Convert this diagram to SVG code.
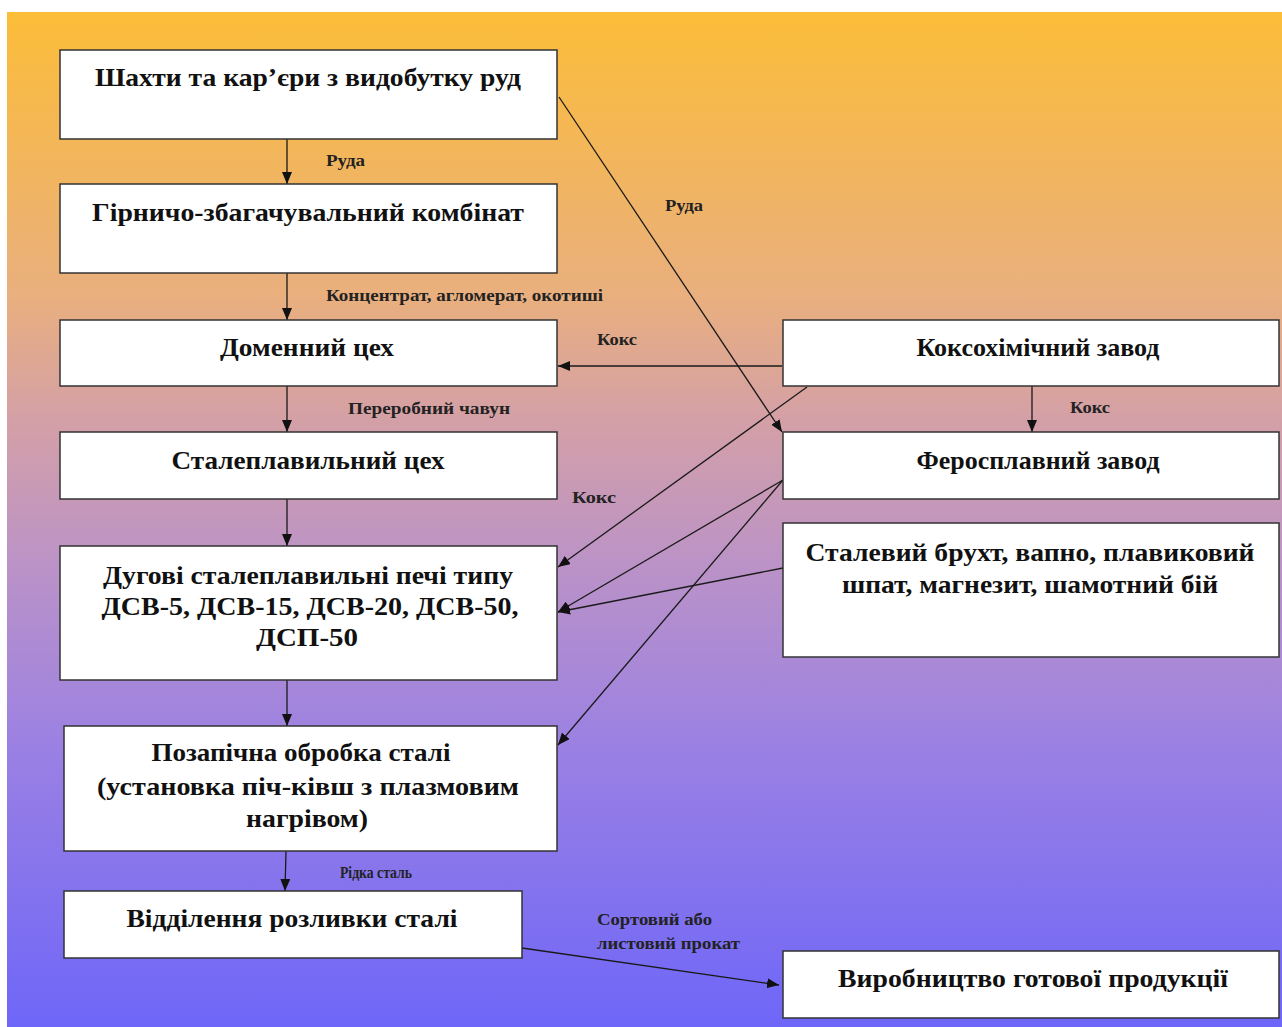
<svg xmlns="http://www.w3.org/2000/svg" width="1282" height="1027" viewBox="0 0 1282 1027">
<defs>
<linearGradient id="bg" x1="0" y1="0" x2="0" y2="1">
<stop offset="0" stop-color="#FCBD38"/>
<stop offset="0.28" stop-color="#E9AF7E"/>
<stop offset="0.4" stop-color="#D4A0A6"/>
<stop offset="0.55" stop-color="#BA92C8"/>
<stop offset="0.73" stop-color="#9A80E4"/>
<stop offset="1" stop-color="#6E66F8"/>
</linearGradient>
<marker id="ah" viewBox="0 0 12 10" refX="12" refY="5" markerWidth="12" markerHeight="10" markerUnits="userSpaceOnUse" orient="auto">
<path d="M0,0 L12,5 L0,10 Z" fill="#111"/>
</marker>
<style>
.box{fill:#fff;stroke:#333;stroke-width:1.5}
.nt{font-family:"Liberation Serif","Times New Roman",serif;font-weight:bold;font-size:26px;fill:#111;text-anchor:middle}
.lb{font-family:"Liberation Serif","Times New Roman",serif;font-weight:bold;font-size:17px;fill:#222}
.cn{stroke:#1a1a1a;stroke-width:1.3;fill:none;marker-end:url(#ah)}
</style>
</defs>
<rect x="0" y="0" width="1282" height="1027" fill="#fff"/>
<rect x="7" y="12" width="1275" height="1015" fill="url(#bg)"/>

<g id="connectors">
<line class="cn" x1="287" y1="139" x2="287" y2="184"/>
<line class="cn" x1="287" y1="273" x2="287" y2="320"/>
<line class="cn" x1="287" y1="386" x2="287" y2="432"/>
<line class="cn" x1="287" y1="499" x2="287" y2="546"/>
<line class="cn" x1="287" y1="680" x2="287" y2="726"/>
<line class="cn" x1="286" y1="851" x2="285" y2="891"/>
<line class="cn" x1="522" y1="948" x2="779" y2="985"/>
<line class="cn" x1="559" y1="97" x2="782" y2="432"/>
<line class="cn" x1="782" y1="366" x2="558" y2="366"/>
<line class="cn" x1="1032" y1="386" x2="1032" y2="432"/>
<line class="cn" x1="807" y1="387" x2="558" y2="567"/>
<line class="cn" x1="783" y1="480" x2="558" y2="612"/>
<line class="cn" x1="783" y1="480" x2="558" y2="745"/>
<line class="cn" x1="783" y1="568" x2="558" y2="612"/>
<text class="lb" x="326" y="166" textLength="39" lengthAdjust="spacingAndGlyphs">Руда</text>
<text class="lb" x="326" y="301" textLength="277" lengthAdjust="spacingAndGlyphs">Концентрат, агломерат, окотиші</text>
<text class="lb" x="348" y="414" textLength="162" lengthAdjust="spacingAndGlyphs">Переробний чавун</text>
<text class="lb" x="572" y="503" textLength="44" lengthAdjust="spacingAndGlyphs">Кокс</text>
<text class="lb" x="597" y="345" textLength="40" lengthAdjust="spacingAndGlyphs">Кокс</text>
<text class="lb" x="665" y="211" textLength="38" lengthAdjust="spacingAndGlyphs">Руда</text>
<text class="lb" x="1070" y="413" textLength="40" lengthAdjust="spacingAndGlyphs">Кокс</text>
<text class="lb" x="340" y="878" textLength="72" lengthAdjust="spacingAndGlyphs">Рідка сталь</text>
<text class="lb" x="597" y="925" textLength="115" lengthAdjust="spacingAndGlyphs">Сортовий або</text>
<text class="lb" x="597" y="949" textLength="143" lengthAdjust="spacingAndGlyphs">листовий прокат</text>
</g>

<g id="n1"><rect class="box" x="60" y="50" width="497" height="89"/><text class="nt" x="308" y="86" textLength="426" lengthAdjust="spacingAndGlyphs">Шахти та кар’єри з видобутку руд</text></g>
<g id="n2"><rect class="box" x="60" y="184" width="497" height="89"/><text class="nt" x="308" y="221" textLength="432" lengthAdjust="spacingAndGlyphs">Гірничо-збагачувальний комбінат</text></g>
<g id="n3"><rect class="box" x="60" y="320" width="497" height="66"/><text class="nt" x="307" y="356" textLength="174" lengthAdjust="spacingAndGlyphs">Доменний цех</text></g>
<g id="n4"><rect class="box" x="60" y="432" width="497" height="67"/><text class="nt" x="308" y="469" textLength="273" lengthAdjust="spacingAndGlyphs">Сталеплавильний цех</text></g>
<g id="n5"><rect class="box" x="60" y="546" width="497" height="134"/>
<text class="nt" x="308" y="584" textLength="410" lengthAdjust="spacingAndGlyphs">Дугові сталеплавильні печі типу</text>
<text class="nt" x="310" y="615" textLength="417" lengthAdjust="spacingAndGlyphs">ДСВ-5, ДСВ-15, ДСВ-20, ДСВ-50,</text>
<text class="nt" x="307" y="646" textLength="102" lengthAdjust="spacingAndGlyphs">ДСП-50</text></g>
<g id="n6"><rect class="box" x="64" y="726" width="493" height="125"/>
<text class="nt" x="301" y="761" textLength="299" lengthAdjust="spacingAndGlyphs">Позапічна обробка сталі</text>
<text class="nt" x="308" y="795" textLength="422" lengthAdjust="spacingAndGlyphs">(установка піч-ківш з плазмовим</text>
<text class="nt" x="307" y="827" textLength="122" lengthAdjust="spacingAndGlyphs">нагрівом)</text></g>
<g id="n7"><rect class="box" x="64" y="891" width="458" height="67"/><text class="nt" x="292" y="927" textLength="331" lengthAdjust="spacingAndGlyphs">Відділення розливки сталі</text></g>
<g id="n8"><rect class="box" x="783" y="951" width="496" height="67"/><text class="nt" x="1033" y="987" textLength="390" lengthAdjust="spacingAndGlyphs">Виробництво готової продукції</text></g>
<g id="n9"><rect class="box" x="783" y="320" width="496" height="66"/><text class="nt" x="1038" y="356" textLength="243" lengthAdjust="spacingAndGlyphs">Коксохімічний завод</text></g>
<g id="n10"><rect class="box" x="783" y="432" width="496" height="67"/><text class="nt" x="1038" y="469" textLength="243" lengthAdjust="spacingAndGlyphs">Феросплавний завод</text></g>
<g id="n11"><rect class="box" x="783" y="523" width="496" height="134"/>
<text class="nt" x="1030" y="561" textLength="449" lengthAdjust="spacingAndGlyphs">Сталевий брухт, вапно, плавиковий</text>
<text class="nt" x="1030" y="593" textLength="376" lengthAdjust="spacingAndGlyphs">шпат, магнезит, шамотний бій</text></g>
</svg>
